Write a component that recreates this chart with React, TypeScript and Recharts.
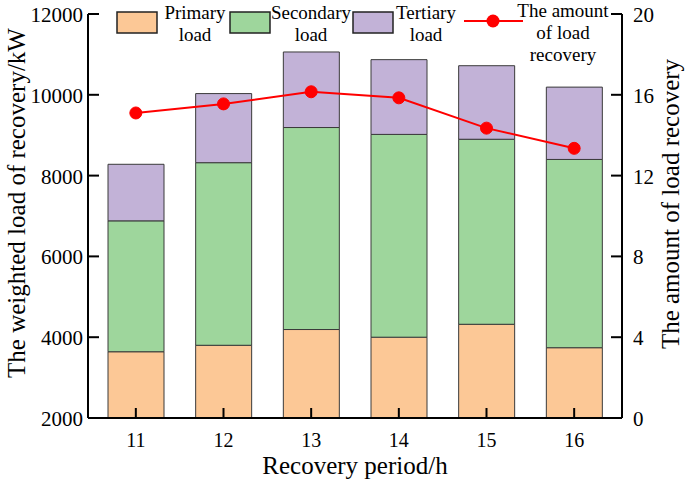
import React from "react";
import { Bar, ComposedChart, Line, XAxis, YAxis } from "recharts";

const periods = ["11", "12", "13", "14", "15", "16"];
const primaryLoad = [3640, 3800, 4190, 4000, 4320, 3740];
const secondaryLoad = [3240, 4520, 5000, 5020, 4580, 4660];
const tertiaryLoad = [1400, 1710, 1870, 1850, 1820, 1790];
const recoveryAmount = [15.1, 15.55, 16.15, 15.85, 14.35, 13.35];
const leftTicks = [2000, 4000, 6000, 8000, 10000, 12000];
const rightTicks = [0, 4, 8, 12, 16, 20];

const data = periods.map((period, i) => ({
  period,
  primary: primaryLoad[i],
  secondary: secondaryLoad[i],
  tertiary: tertiaryLoad[i],
  amount: recoveryAmount[i],
}));

const FONT = '"Liberation Serif", "Times New Roman", serif';
const PEACH = "#fcc896";
const GREEN = "#9ed69c";
const LAVENDER = "#c2b2d7";
const EDGE = "#3a3a3a";
const RED = "#ff0000";

const LEFT_MARGIN = 6;
const RIGHT_MARGIN = 11;

function LeftTick(props: any) {
  const { x, y, payload } = props;
  const ax = x + LEFT_MARGIN;
  return (
    <g>
      <line x1={ax} x2={ax + 11} y1={y} y2={y} stroke="#000" strokeWidth={2} />
      <text x={ax - 5} y={y} dy={8} textAnchor="end" fontSize={21} fontFamily={FONT} fill="#000">
        {payload.value}
      </text>
    </g>
  );
}

function RightTick(props: any) {
  const { x, y, payload } = props;
  const ax = x - RIGHT_MARGIN;
  return (
    <g>
      <line x1={ax} x2={ax - 11} y1={y} y2={y} stroke="#000" strokeWidth={2} />
      <text x={x} y={y} dy={8} textAnchor="start" fontSize={21} fontFamily={FONT} fill="#000">
        {payload.value}
      </text>
    </g>
  );
}

function BottomTick(props: any) {
  const { x, y, payload } = props;
  return (
    <g>
      <line x1={x} x2={x} y1={y} y2={y - 10} stroke="#000" strokeWidth={2} />
      <text x={x} y={y + 29} textAnchor="middle" fontSize={20} fontFamily={FONT} fill="#000">
        {payload.value}
      </text>
    </g>
  );
}

function LegendOverlay() {
  const txt = { fontSize: 19, fontFamily: FONT, fill: "#000", textAnchor: "middle" as const };
  const box = { height: 21, width: 40, stroke: "#222", strokeWidth: 1.5 };
  return (
    <svg
      width={685}
      height={70}
      style={{ position: "absolute", left: 0, top: 0, pointerEvents: "none" }}
    >
      <rect x={117} y={12} fill={PEACH} {...box} />
      <text x={195} y={19} {...txt}>Primary</text>
      <text x={195} y={41} {...txt}>load</text>

      <rect x={230} y={12} fill={GREEN} {...box} />
      <text x={311} y={19} {...txt}>Secondary</text>
      <text x={311} y={41} {...txt}>load</text>

      <rect x={353} y={12} fill={LAVENDER} {...box} />
      <text x={426} y={19} {...txt}>Tertiary</text>
      <text x={426} y={41} {...txt}>load</text>

      <line x1={464} x2={523} y1={21} y2={21} stroke={RED} strokeWidth={2} />
      <circle cx={493} cy={21} r={6.5} fill={RED} />
      <text x={563} y={17} {...txt}>The amount</text>
      <text x={563} y={39} {...txt}>of load</text>
      <text x={563} y={61} {...txt}>recovery</text>
    </svg>
  );
}

export default function App() {
  return (
    <div style={{ position: "absolute", left: 0, top: 0, width: 685, height: 480, background: "#fff" }}>
      <ComposedChart
        width={685}
        height={480}
        data={data}
        margin={{ top: 14, right: 0, bottom: 0, left: 0 }}
        barCategoryGap={0}
      >
        <Bar
          yAxisId="left"
          dataKey="primary"
          stackId="load"
          fill={PEACH}
          stroke={EDGE}
          strokeWidth={1}
          barSize={56}
          isAnimationActive={false}
        />
        <Bar
          yAxisId="left"
          dataKey="secondary"
          stackId="load"
          fill={GREEN}
          stroke={EDGE}
          strokeWidth={1}
          barSize={56}
          isAnimationActive={false}
        />
        <Bar
          yAxisId="left"
          dataKey="tertiary"
          stackId="load"
          fill={LAVENDER}
          stroke={EDGE}
          strokeWidth={1}
          barSize={56}
          isAnimationActive={false}
        />
        <XAxis
          dataKey="period"
          height={62}
          padding={{ left: 4, right: 4 }}
          axisLine={{ stroke: "#000", strokeWidth: 2 }}
          tickLine={false}
          tickSize={0}
          tickMargin={0}
          tick={<BottomTick />}
          interval={0}
          label={{
            value: "Recovery period/h",
            position: "insideBottom",
            offset: 6,
            fontSize: 25,
            fontFamily: FONT,
            fill: "#000",
          }}
        />
        <YAxis
          yAxisId="left"
          width={88}
          domain={[2000, 12000]}
          ticks={leftTicks}
          allowDataOverflow
          axisLine={{ stroke: "#000", strokeWidth: 2 }}
          tickLine={false}
          tickSize={0}
          tickMargin={LEFT_MARGIN}
          tick={<LeftTick />}
          interval={0}
          label={{
            content: () => (
              <text
                x={25}
                y={203}
                transform="rotate(-90 25 203)"
                textAnchor="middle"
                fontSize={25}
                fontFamily={FONT}
                fill="#000"
              >
                The weighted load of recovery/kW
              </text>
            ),
          }}
        />
        <YAxis
          yAxisId="right"
          orientation="right"
          width={63}
          domain={[0, 20]}
          ticks={rightTicks}
          allowDataOverflow
          axisLine={{ stroke: "#000", strokeWidth: 2 }}
          tickLine={false}
          tickSize={0}
          tickMargin={RIGHT_MARGIN}
          tick={<RightTick />}
          interval={0}
          label={{
            content: () => (
              <text
                x={679}
                y={204}
                transform="rotate(-90 679 204)"
                textAnchor="middle"
                fontSize={25}
                fontFamily={FONT}
                fill="#000"
              >
                The amount of load recovery
              </text>
            ),
          }}
        />
        <Line
          yAxisId="right"
          dataKey="amount"
          stroke={RED}
          strokeWidth={2}
          dot={{ r: 6, fill: RED, stroke: RED, strokeWidth: 1 }}
          activeDot={false}
          isAnimationActive={false}
        />
      </ComposedChart>
      <LegendOverlay />
    </div>
  );
}
